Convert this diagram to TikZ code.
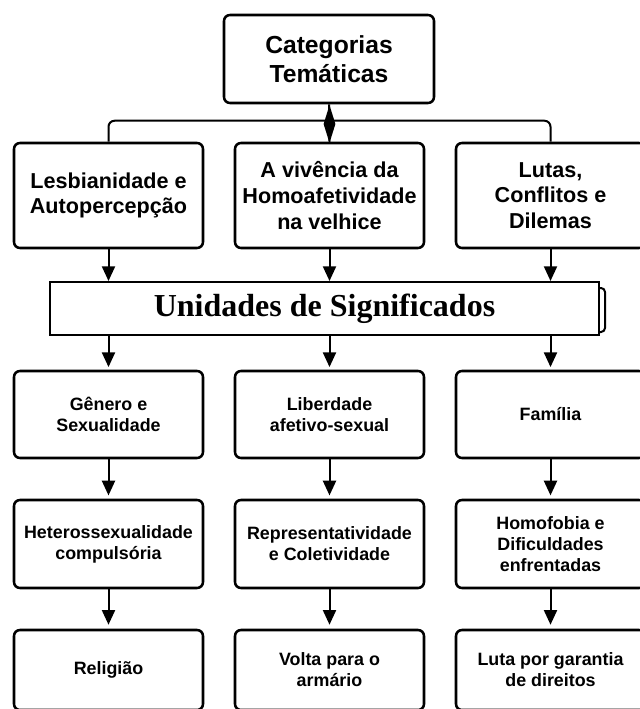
\documentclass[tikz,border=0pt]{standalone}
\usepackage{fontspec}
\setmainfont{Liberation Sans}
\newfontfamily\bannerfont{Liberation Serif}
\usetikzlibrary{arrows.meta,shapes.geometric}
\begin{document}
\begin{tikzpicture}[x=0.75pt,y=-0.75pt,
  box/.style={draw=black, line width=1.9pt, rounded corners=4.5pt, fill=white,
    minimum width=141.75pt, inner sep=0pt, align=center, font=\bfseries},
  topbox/.style={box, minimum width=157.5pt, minimum height=66pt,
    font=\bfseries\fontsize{18.5pt}{22pt}\selectfont},
  rowone/.style={box, minimum height=78.75pt,
    font=\bfseries\fontsize{16.2pt}{19.2pt}\selectfont},
  rowtwo/.style={box, minimum height=65.25pt,
    font=\bfseries\fontsize{13.4pt}{15.8pt}\selectfont},
  rowthree/.style={box, minimum height=66pt,
    font=\bfseries\fontsize{13.4pt}{15.8pt}\selectfont},
  rowfour/.style={box, minimum height=60pt,
    font=\bfseries\fontsize{13.4pt}{15.8pt}\selectfont},
  conn/.style={draw=black, line width=1.5pt},
  arr/.style={conn, -{Triangle[length=11pt,width=9.75pt]}},
]
\useasboundingbox (0,0) rectangle (639,709);
% top
\node[topbox] (top) at (329,59) {Categorias\\Temáticas};
% row 1
\node[rowone] (a1) at (108.5,195.5) {Lesbianidade e\\Autopercepção};
\node[rowone] (b1) at (329.5,195.5) {A vivência da\\Homoafetividade\\na velhice};
\node[rowone] (c1) at (550.5,195.5) {Lutas,\\Conflitos e\\Dilemas};
% connectors from top
\draw[conn, rounded corners=4.5pt] (a1.north) -- ++(0,-21) -| (c1.north);
\draw[conn] (top.south) -- (b1.north);
\node[diamond, fill=black, draw=none, inner sep=0pt, minimum width=9pt,
  minimum height=28.5pt] (dia) at (329.5,124) {};
% banner
\draw[conn, rounded corners=3pt] (593,288) -- (605,288) -- (605,332) -- (593,332);
\node[draw=black, line width=1.5pt, fill=white, minimum width=411.75pt,
  minimum height=39.75pt, inner sep=0pt,
  font=\bannerfont\bfseries\fontsize{24pt}{28pt}\selectfont]
  (ban) at (324.5,308.5) {Unidades de Significados};
\draw[arr] (a1.south) -- (a1.south |- ban.north);
\draw[arr] (b1.south) -- (b1.south |- ban.north);
\draw[arr] (c1.south) -- (c1.south |- ban.north);
% row 2
\node[rowtwo] (a2) at (108.5,414.5) {Gênero e\\Sexualidade};
\node[rowtwo] (b2) at (329.5,414.5) {Liberdade\\afetivo-sexual};
\node[rowtwo] (c2) at (550.5,414.5) {Família};
\draw[arr, shorten >=2pt] (ban.south -| a2.north) -- (a2.north);
\draw[arr, shorten >=2pt] (ban.south -| b2.north) -- (b2.north);
\draw[arr, shorten >=2pt] (ban.south -| c2.north) -- (c2.north);
% row 3
\node[rowthree] (a3) at (108.5,544) {Heterossexualidade\\compulsória};
\node[rowthree] (b3) at (329.5,544) {Representatividade\\e Coletividade};
\node[rowthree] (c3) at (550.5,544) {Homofobia e\\Dificuldades\\enfrentadas};
\draw[arr, shorten >=2.5pt] (a2) -- (a3);
\draw[arr, shorten >=2.5pt] (b2) -- (b3);
\draw[arr, shorten >=2.5pt] (c2) -- (c3);
% row 4
\node[rowfour] (a4) at (108.5,670) {Religião};
\node[rowfour] (b4) at (329.5,670) {Volta para o\\armário};
\node[rowfour] (c4) at (550.5,670) {Luta por garantia\\de direitos};
\draw[arr, shorten >=3pt] (a3) -- (a4);
\draw[arr, shorten >=3pt] (b3) -- (b4);
\draw[arr, shorten >=3pt] (c3) -- (c4);
\end{tikzpicture}
\end{document}
